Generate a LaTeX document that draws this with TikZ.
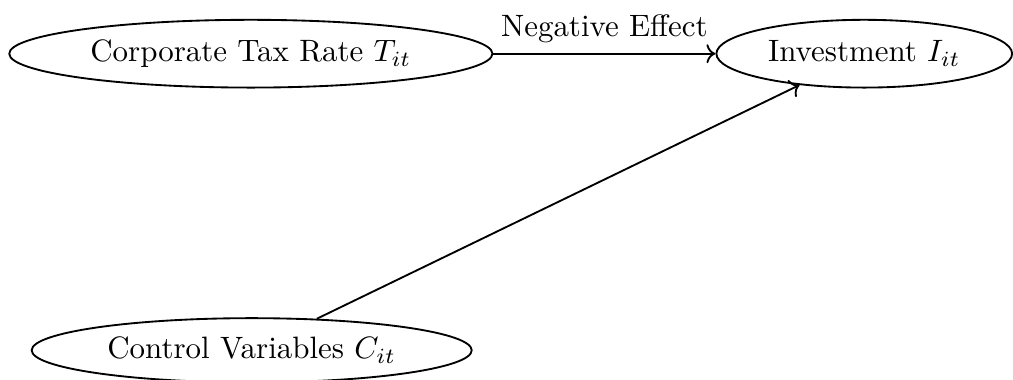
\documentclass[tikz,border=0pt]{standalone}
\usepackage{amsmath,amssymb}
\usetikzlibrary{arrows.meta,positioning,calc,shapes.geometric}

\begin{document}
\begin{tikzpicture}[scale=1.0,
  var/.style={draw,ellipse,semithick,inner sep=0pt},
  link/.style={semithick,->}]
\useasboundingbox (0,0) rectangle (11.51,-4.307);
\coordinate (T) at (2.85,-0.61); \coordinate (I) at (9.82,-0.61);
\coordinate (C) at (2.86,-3.98);
\node[var,minimum width=5.49cm,minimum height=0.77cm] (tax) at (T) {Corporate Tax Rate $T_{it}$};
\node[var,minimum width=3.36cm,minimum height=0.77cm] (inv) at (I) {Investment $I_{it}$};
\node[var,minimum width=5.0cm,minimum height=0.73cm] (ctrl) at (C) {Control Variables $C_{it}$};
\draw[link] (tax)--(inv) node[midway,above]{Negative Effect};
\draw[link] (ctrl)--(inv);
\end{tikzpicture}
\end{document}
